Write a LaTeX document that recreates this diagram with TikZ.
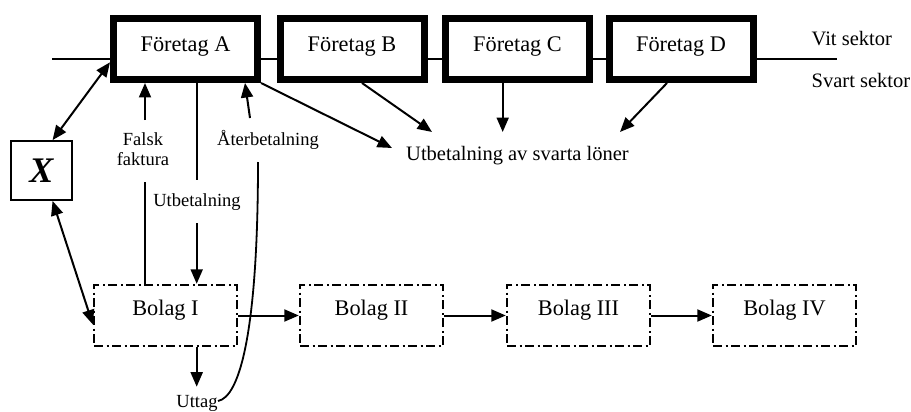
\documentclass[tikz,border=0pt]{standalone}
\usepackage{fontspec}
\setmainfont{Liberation Serif}
\usetikzlibrary{arrows.meta,calc}

\begin{document}
\begin{tikzpicture}[x=1pt,y=-1pt,
  big/.style={font=\fontsize{22.3}{26}\selectfont},
  mid/.style={font=\fontsize{20.5}{24}\selectfont},
  small/.style={font=\fontsize{18.5}{20}\selectfont},
  firm/.style={draw, line width=7pt, fill=white, minimum width=144pt,
    minimum height=61pt, inner sep=0pt, big, text height=15pt, text depth=9.6pt},
  shell/.style={draw, line width=2.4pt, dash pattern=on 9pt off 3.5pt on 2pt off 3.5pt,
    minimum width=143pt, minimum height=61pt, inner sep=0pt, big,
    text height=15pt, text depth=15pt},
  tip/.tip={Triangle[length=14.5pt,width=12pt]},
  flow/.style={line width=2pt, -tip},
  both/.style={line width=2pt, tip-tip},
  plain/.style={line width=1.8pt},
  lbl/.style={inner sep=0pt, anchor=base},
]
\useasboundingbox (0,0) rectangle (911,412);

% boundary between the white and the black sector
\coordinate (wl) at (52,59);
\coordinate (wr) at (837,59);
\draw[plain] (wl) -- (wr);

% companies in the white sector
\node[firm] (A) at (185.5,49) {Företag A};
\node[firm] (B) at (352,49) {Företag B};
\node[firm] (C) at (517.5,49) {Företag C};
\node[firm] (D) at (681,49) {Företag D};

\node[mid, lbl, anchor=base west] (vit) at (811.5,46) {Vit sektor};
\node[mid, lbl, anchor=base west] (svart) at (811.5,88) {Svart sektor};

% the organiser
\node[draw, line width=1.8pt, minimum width=61pt, minimum height=59pt, inner sep=0pt]
  (X) at (41.5,170.5) {\fontsize{36}{40}\selectfont\bfseries\itshape X};

% shell companies in the black sector
\node[shell] (S1) at (165.5,315.5) {Bolag I};
\node[shell] (S2) at (371.5,315.5) {Bolag II};
\node[shell] (S3) at (578.5,315.5) {Bolag III};
\node[shell] (S4) at (784.5,315.5) {Bolag IV};

\draw[flow] (S1.east) -- (S2.west);
\draw[flow] (S2.east) -- (S3.west);
\draw[flow] (S3.east) -- (S4.west);

% X controls both sides
\draw[both] (X.70) -- (A.190);
\draw[both] (X.-70) -- (S1.187);

% black wages
\node[mid, lbl] (wages) at (517.5,160) {Utbetalning av svarta löner};
\coordinate (tA) at (392,148);
\coordinate (tB) at (432,132);
\coordinate (tC) at (502.7,132);
\coordinate (tD) at (620,132);
\draw[flow] (A.south east) -- (tA);
\draw[flow] ([xshift=10pt]B.south) -- (tB);
\draw[flow] (C.south -| tC) -- (tC);
\draw[flow] ([xshift=-14pt]D.south) -- (tD);

% false invoice
\node[small, lbl] (ff1) at (143,146) {Falsk};
\node[small, lbl] (ff2) at (143,165.5) {faktura};
\coordinate (ffa) at (145,120);
\coordinate (ffb) at (145,182);
\draw[flow] (ffa) -- (ffa |- A.south);
\draw[plain] (ffb) -- (ffb |- S1.north);

% payment
\node[small, lbl] (pay) at (197,206.7) {Utbetalning};
\coordinate (paya) at (196.7,180);
\coordinate (payb) at (196.7,223);
\draw[plain] (paya |- A.south) -- (paya);
\draw[flow] (payb) -- (payb |- S1.north);

% withdrawal and repayment
\node[small, lbl] (out) at (197,407.5) {Uttag};
\coordinate (outtip) at (196.7,386.7);
\draw[flow] (outtip |- S1.south) -- (outtip);
\node[small, lbl] (back) at (268,145) {Återbetalning};
\coordinate (cs) at (218,401);
\coordinate (ce) at (258,162);
\draw[plain] (cs) .. controls (240,397) and (258,330) .. (ce);
\coordinate (backa) at (250,118);
\draw[flow] (backa) -- ([xshift=59.5pt]A.south);
\end{tikzpicture}
\end{document}
